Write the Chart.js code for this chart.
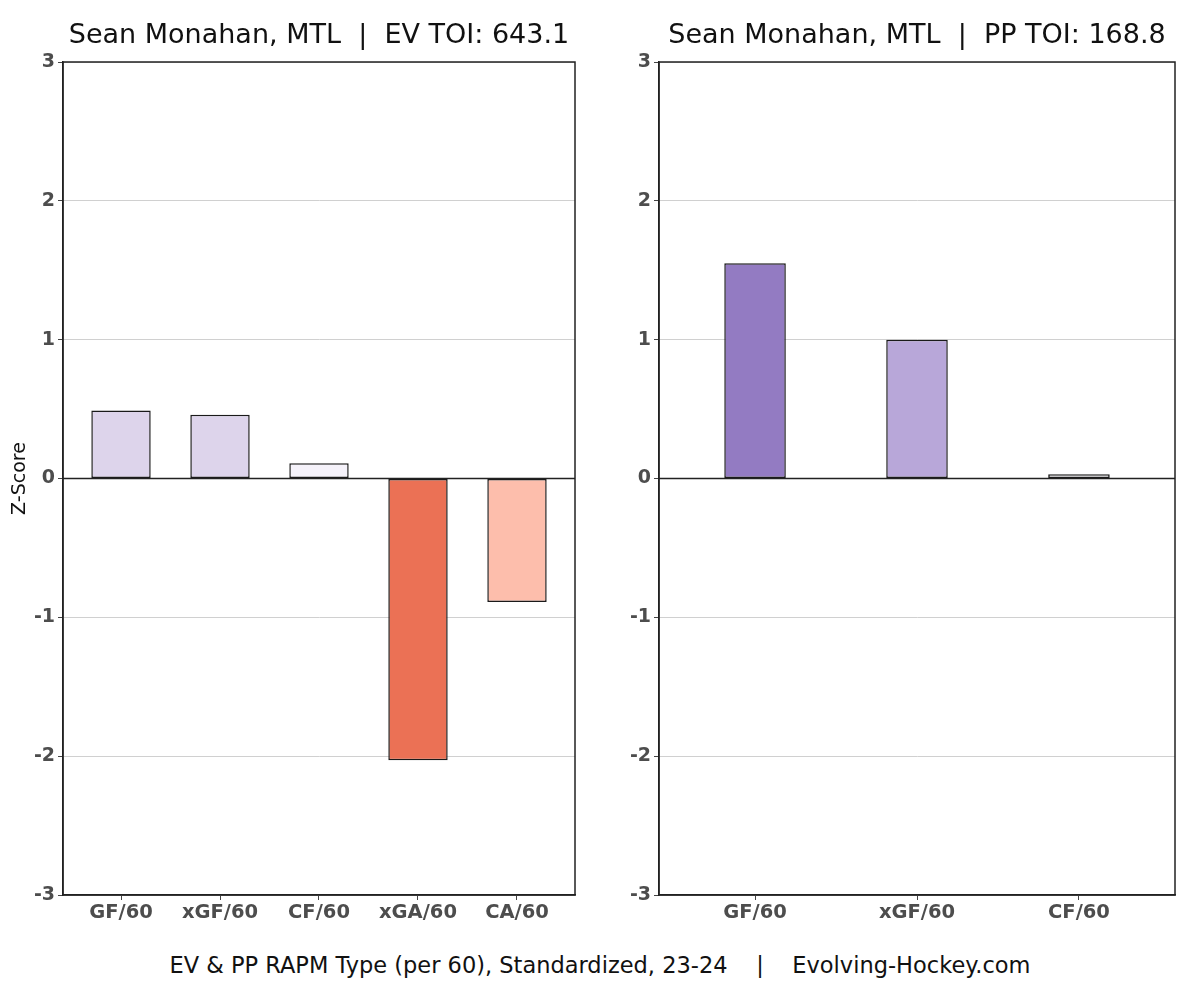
<!DOCTYPE html>
<html>
<head>
<meta charset="utf-8">
<script src="https://cdn.jsdelivr.net/npm/chart.js@4.4.1/dist/chart.umd.min.js"></script>
<style>
  html, body { margin: 0; padding: 0; background: #fff; }
  body { width: 1200px; height: 988px; position: relative; overflow: hidden; font-family: "DejaVu Sans", sans-serif; }
  #c1 { position: absolute; left: 0; top: 0; }
  #c2 { position: absolute; left: 600px; top: 0; }
  #caption { position: absolute; left: 0; width: 1200px; top: 950px; text-align: center; font-size: 22.5px; line-height: 30px; color: #111; white-space: pre; }
</style>
</head>
<body>
<canvas id="c1" width="600" height="940"></canvas>
<canvas id="c2" width="600" height="940"></canvas>
<div id="caption">EV &amp; PP RAPM Type (per 60), Standardized, 23-24    |    Evolving-Hockey.com</div>
<script>
// ---- data ----
const evCategories = ["GF/60", "xGF/60", "CF/60", "xGA/60", "CA/60"];
const evValues = [0.49, 0.46, 0.11, -2.03, -0.89];
const ppCategories = ["GF/60", "xGF/60", "CF/60"];
const ppValues = [1.55, 1.00, 0.03];
const yTicks = [-3, -2, -1, 0, 1, 2, 3];
const evTitle = "Sean Monahan, MTL  |  EV TOI: 643.1";
const ppTitle = "Sean Monahan, MTL  |  PP TOI: 168.8";
const yTitle = "Z-Score";

// ---- styles ----
const evColors = ["#ddd4eb", "#ddd4eb", "#f5f2fa", "#eb7155", "#fdbeac"];
const ppColors = ["#937bc2", "#b8a7d9", "#fbfafd"];
const FONT = "'DejaVu Sans', sans-serif";

const framePlugin = {
  id: 'frame',
  afterDatasetsDraw(chart) {
    const a = chart.chartArea, ctx = chart.ctx;
    ctx.save();
    ctx.strokeStyle = '#222';
    ctx.lineWidth = 1.5;
    ctx.strokeRect(a.left, a.top, a.right - a.left, a.bottom - a.top);
    const y0 = chart.scales.y.getPixelForValue(0);
    ctx.beginPath(); ctx.moveTo(a.left, y0); ctx.lineTo(a.right, y0); ctx.stroke();
    ctx.restore();
  }
};

function makeChart(id, cats, vals, colors, title, yAxisWidth, rightPad, xPad, barPct, showYTitle) {
  const n = cats.length;
  return new Chart(document.getElementById(id), {
    type: 'bar',
    data: {
      datasets: [{
        data: vals.map((v, i) => ({ x: i, y: v })),
        backgroundColor: colors,
        borderColor: '#1a1a1a',
        borderWidth: 1.5,
        borderSkipped: false,
        categoryPercentage: 1,
        barPercentage: barPct
      }]
    },
    options: {
      responsive: false,
      animation: false,
      devicePixelRatio: 1,
      layout: { padding: { top: 0, right: rightPad, bottom: 0, left: 0 } },
      plugins: {
        legend: { display: false },
        tooltip: { enabled: false },
        title: {
          display: true, text: title, fullSize: false, color: '#111',
          font: { family: FONT, size: 27, weight: 'normal', lineHeight: 1.2 },
          padding: { top: 20, bottom: 9.6 }
        }
      },
      scales: {
        x: {
          type: 'linear',
          offset: false,
          min: -xPad, max: n - 1 + xPad,
          afterBuildTicks: (s) => { s.ticks = cats.map((_, i) => ({ value: i })); },
          afterFit: (s) => { s.height = 45; },
          ticks: {
            callback: (v) => cats[v],
            color: '#4d4d4d', padding: 1, maxRotation: 0, autoSkip: false,
            font: { family: FONT, size: 19.5, weight: 'bold' }
          },
          grid: { offset: false, drawOnChartArea: false, drawTicks: true, tickLength: 5, color: '#444' },
          border: { color: '#222', width: 1.5 }
        },
        y: {
          min: -3, max: 3,
          afterBuildTicks: (s) => { s.ticks = yTicks.map(v => ({ value: v })); },
          afterFit: (s) => { s.width = yAxisWidth; },
          ticks: {
            color: '#4d4d4d', padding: 3,
            font: { family: FONT, size: 19, weight: 'bold' }
          },
          title: {
            display: showYTitle, text: yTitle, color: '#111',
            font: { family: FONT, size: 19, weight: 'normal', lineHeight: 1.2 },
            padding: { top: 9, bottom: 0 }
          },
          grid: {
            color: (c) => (c.tick && c.tick.value === 0) ? '#222' : '#d0d0d0',
            lineWidth: 1, tickLength: 5, tickColor: '#444'
          },
          border: { color: '#222', width: 1.5 }
        }
      }
    },
    plugins: [framePlugin]
  });
}

makeChart('c1', evCategories, evValues, evColors, evTitle, 63, 25, 0.586, 0.6, true);
makeChart('c2', ppCategories, ppValues, ppColors, ppTitle, 59, 25, 0.593, 0.38, false);
</script>
</body>
</html>
